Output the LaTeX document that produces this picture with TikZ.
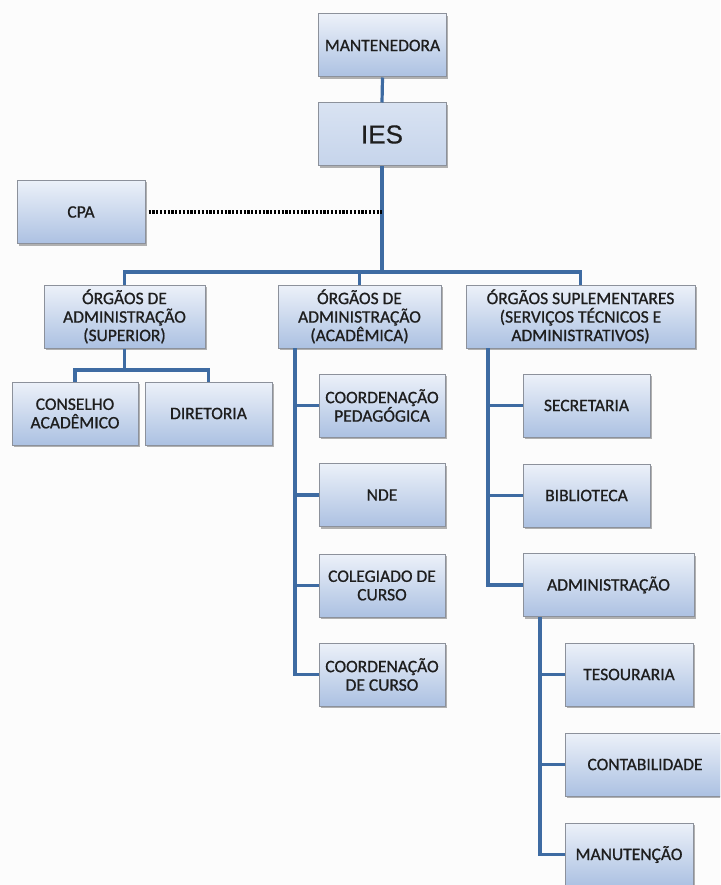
\documentclass[tikz,border=0pt]{standalone}
\usepackage{fontspec}
\setmainfont{Carlito}[FakeBold=0.9]
\newfontfamily\iesfont{Liberation Sans}[FakeBold=0.4]
\usetikzlibrary{shadows}
\definecolor{linec}{RGB}{62,107,162}
\definecolor{boxtop}{RGB}{236,241,249}
\definecolor{boxbot}{RGB}{172,193,226}
\definecolor{boxedge}{RGB}{140,145,155}
\definecolor{txtc}{RGB}{30,30,30}
\tikzset{
  box/.style={draw=boxedge, line width=1pt, top color=boxtop, bottom color=boxbot,
    minimum height=63pt, inner sep=0pt, align=center, text=txtc,
    font=\fontsize{17.5}{18.5}\selectfont,
    drop shadow={shadow xshift=1.8pt, shadow yshift=-2pt, opacity=0.4, fill=black!75}},
  iesbox/.style={box, top color=boxtop!70!boxbot, bottom color=boxtop!40!boxbot,
    font=\iesfont\fontsize{26}{28}\selectfont},
  conn/.style={draw=linec, line width=3.2pt},
  dotconn/.style={draw=black, line width=3.2pt, dash pattern=on 2.2pt off 1.6pt}
}
\begin{document}
\begin{tikzpicture}[x=1pt,y=-1pt]
\useasboundingbox (0,0) rectangle (720,885);
\clip (0,0) rectangle (720,885);
\fill[white!98!gray] (0,0) rectangle (720,885);

\coordinate (jm) at (382,272);
\coordinate (dotend) at (382,212);
\coordinate (j1) at (124.5,370);
\coordinate (av) at (295,348);
\coordinate (sv) at (488,348);
\coordinate (adv) at (540,617);

% nodes
\node[box, minimum width=128pt] (mant) at (382.5,45.5) {MANTENEDORA};
\node[iesbox, minimum width=128pt] (ies) at (382,134.5) {IES};
\node[box, minimum width=128pt] (cpa) at (81,212) {CPA};
\node[box, minimum width=161pt] (sup) at (124.5,316.5) {ÓRGÃOS DE\\ADMINISTRAÇÃO\\(SUPERIOR)};
\node[box, minimum width=163pt] (acad) at (359.5,316.5) {ÓRGÃOS DE\\ADMINISTRAÇÃO\\(ACADÊMICA)};
\node[box, minimum width=229pt] (supl) at (580.5,316.5) {ÓRGÃOS SUPLEMENTARES\\(SERVIÇOS TÉCNICOS E\\ADMINISTRATIVOS)};
\node[box, minimum width=126pt] (cons) at (75,413.5) {CONSELHO\\ACADÊMICO};
\node[box, minimum width=127pt] (dir) at (208.5,413.5) {DIRETORIA};
\node[box, minimum width=126pt] (cped) at (382,405.5) {COORDENAÇÃO\\PEDAGÓGICA};
\node[box, minimum width=126pt] (nde) at (382,495) {NDE};
\node[box, minimum width=126pt] (coleg) at (382,585.5) {COLEGIADO DE\\CURSO};
\node[box, minimum width=126pt] (cdc) at (382,674.5) {COORDENAÇÃO\\DE CURSO};
\node[box, minimum width=127pt] (secr) at (586.5,405.5) {SECRETARIA};
\node[box, minimum width=127pt] (bibl) at (586.5,495.5) {BIBLIOTECA};
\node[box, minimum width=171pt] (admin) at (608.5,585) {ADMINISTRAÇÃO};
\node[box, minimum width=128pt] (tes) at (629,674.5) {TESOURARIA};
\node[box, minimum width=160pt] (cont) at (645,764.5) {CONTABILIDADE};
\node[box, minimum width=128pt] (manu) at (629,854.5) {MANUTENÇÃO};

% connectors
\draw[conn] (mant.south) -- (ies.north);
\draw[conn] (ies.south) -- (jm);
\draw[conn] (sup.north) |- (jm) -| (supl.north);
\draw[conn] (acad.north) -- (acad.north |- jm);
\draw[dotconn] (cpa.east) ++(3,0) -- (dotend);
\draw[conn] (sup.south) -- (j1);
\draw[conn] (cons.north) |- (j1) -| (dir.north);
\draw[conn] (av) |- (cdc.west);
\draw[conn] (av |- cped.west) -- (cped.west);
\draw[conn] (av |- nde.west) -- (nde.west);
\draw[conn] (av |- coleg.west) -- (coleg.west);
\draw[conn] (sv) |- (admin.west);
\draw[conn] (sv |- secr.west) -- (secr.west);
\draw[conn] (sv |- bibl.west) -- (bibl.west);
\draw[conn] (adv) |- (manu.west);
\draw[conn] (adv |- tes.west) -- (tes.west);
\draw[conn] (adv |- cont.west) -- (cont.west);
\end{tikzpicture}
\end{document}
